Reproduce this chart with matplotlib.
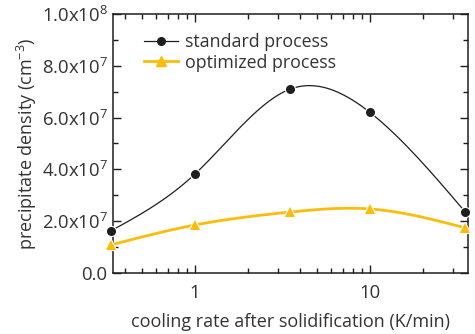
import numpy as np
import matplotlib
matplotlib.use("Agg")
import matplotlib.pyplot as plt
from matplotlib.ticker import FixedLocator, FuncFormatter, LogLocator, NullFormatter, MultipleLocator

plt.rcParams['font.family'] = ['Open Sans', 'DejaVu Sans']
plt.rcParams['mathtext.fontset'] = 'custom'
plt.rcParams['mathtext.rm'] = 'Open Sans'
plt.rcParams['mathtext.it'] = 'Open Sans'

cooling_rate = [0.33, 1.0, 3.5, 10.0, 35.0]
standard = [1.62e7, 3.82e7, 7.1e7, 6.2e7, 2.36e7]
optimized = [1.08e7, 1.85e7, 2.35e7, 2.47e7, 1.74e7]
series_names = ["standard process", "optimized process"]
y_ticks = [0, 2e7, 4e7, 6e7, 8e7, 1e8]
y_tick_labels = ["0.0", "2.0x10$^{7}$", "4.0x10$^{7}$", "6.0x10$^{7}$", "8.0x10$^{7}$", "1.0x10$^{8}$"]

BLACK = "#1e1e1e"
YELLOW = "#fbbd0a"
TEXT = "#333333"


def natural_spline(xk, yk, xs):
    xk = np.asarray(xk, float); yk = np.asarray(yk, float)
    n = len(xk)
    h = np.diff(xk)
    A = np.zeros((n, n)); b = np.zeros(n)
    A[0, 0] = 1; A[-1, -1] = 1
    for i in range(1, n - 1):
        A[i, i - 1] = h[i - 1]
        A[i, i] = 2 * (h[i - 1] + h[i])
        A[i, i + 1] = h[i]
        b[i] = 3 * ((yk[i + 1] - yk[i]) / h[i] - (yk[i] - yk[i - 1]) / h[i - 1])
    c = np.linalg.solve(A, b)
    out = np.empty_like(xs)
    for j, x in enumerate(xs):
        i = min(max(np.searchsorted(xk, x) - 1, 0), n - 2)
        dx = x - xk[i]
        bi = (yk[i + 1] - yk[i]) / h[i] - h[i] * (2 * c[i] + c[i + 1]) / 3
        di = (c[i + 1] - c[i]) / (3 * h[i])
        out[j] = yk[i] + bi * dx + c[i] * dx ** 2 + di * dx ** 3
    return out


fig = plt.figure(figsize=(4.75, 3.34), dpi=100)
ax = fig.add_axes([0.238, 0.183, 0.747, 0.775])

lx = np.log10(cooling_rate)
xs = np.linspace(lx[0], lx[-1], 400)

for vals, col, mk, ms, lw in [(standard, BLACK, 'o', 6.5, 0.9), (optimized, YELLOW, '^', 7.5, 2.0)]:
    ys = natural_spline(lx, vals, xs)
    ax.plot(10 ** xs, ys, color=col, lw=lw, zorder=2, clip_on=False)
    ax.plot(cooling_rate, vals, ls='none', marker=mk, ms=ms, color=col,
            markeredgecolor='white', markeredgewidth=1.6, zorder=3, clip_on=False)
    ax.plot(cooling_rate, vals, ls='none', marker=mk, ms=ms, color=col,
            markeredgewidth=0, zorder=4, clip_on=False)

# legend handles
h1, = ax.plot([], [], color=BLACK, lw=0.9, marker='o', ms=5.5)
h2, = ax.plot([], [], color=YELLOW, lw=2.0, marker='^', ms=6.5)
leg = ax.legend([h1, h2], series_names, loc='upper left', frameon=False,
                bbox_to_anchor=(0.087, 0.925), fontsize=12.8, handlelength=1.9,
                handletextpad=0.4, labelspacing=0.12, borderaxespad=0.0,
                borderpad=0.0)
for t in leg.get_texts():
    t.set_color(TEXT)

ax.set_xscale('log')
ax.set_xlim(0.34, 36.3)
ax.set_ylim(0, 1e8)
ax.yaxis.set_major_locator(FixedLocator(y_ticks))
ax.set_yticklabels(y_tick_labels)
ax.yaxis.set_minor_locator(MultipleLocator(1e7))
ax.xaxis.set_major_locator(FixedLocator([1, 10]))
ax.xaxis.set_major_formatter(FuncFormatter(lambda v, p: "%d" % v))
ax.xaxis.set_minor_locator(LogLocator(base=10, subs=np.arange(2, 10)))
ax.xaxis.set_minor_formatter(NullFormatter())

ax.tick_params(which='both', direction='in', top=True, right=True, color=BLACK, width=1.0)
ax.tick_params(which='major', length=6, labelsize=13.3, labelcolor=TEXT, pad=4)
ax.tick_params(which='minor', length=3.5)
ax.tick_params(axis='x', which='major', pad=8)
for s in ax.spines.values():
    s.set_color(BLACK)
    s.set_linewidth(1.1)

ax.set_xlabel("cooling rate after solidification (K/min)", fontsize=13, color=TEXT, labelpad=8)
ax.set_ylabel("precipitate density (cm$^{-3}$)", fontsize=13, color=TEXT, labelpad=2)

fig.savefig("out.png", dpi=100)
